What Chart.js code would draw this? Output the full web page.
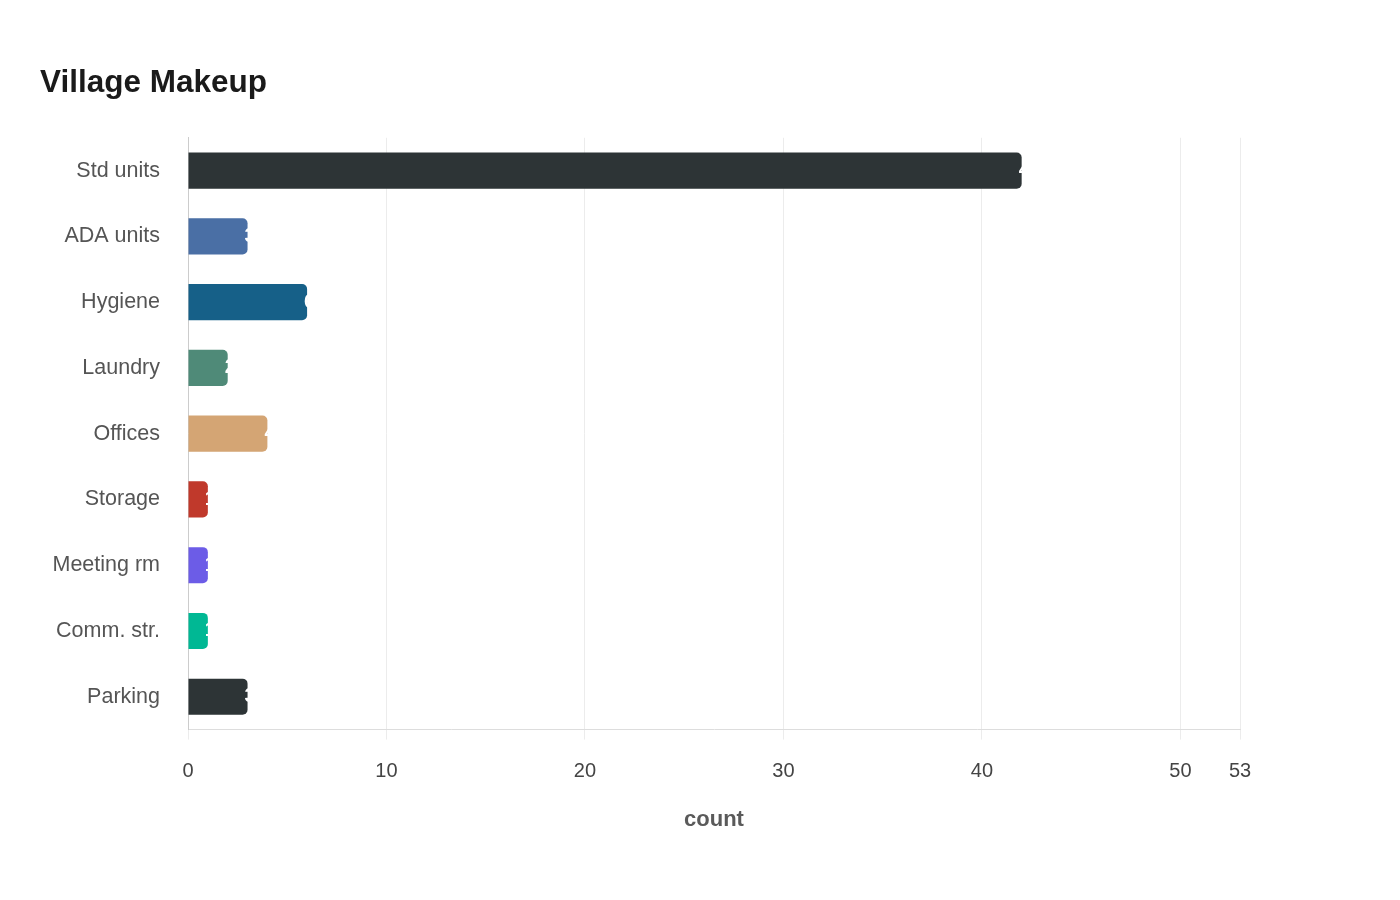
<!DOCTYPE html>
<html>
<head>
<meta charset="utf-8">
<script src="https://cdn.jsdelivr.net/npm/chart.js@4/dist/chart.umd.min.js"></script>
<style>
  html, body { margin: 0; padding: 0; background: #fff; }
  #wrap { width: 1400px; height: 900px; }
</style>
</head>
<body>
<div id="wrap"><canvas id="chart" width="1400" height="900"></canvas></div>
<script>
// ========== data ==========
const categories = ["Std units", "ADA units", "Hygiene", "Laundry", "Offices", "Storage", "Meeting rm", "Comm. str.", "Parking"];
const counts = [42, 3, 6, 2, 4, 1, 1, 1, 3];
const barColors = ["#2d3436", "#4a6fa5", "#166088", "#4f8a78", "#d4a574", "#c0392b", "#6c5ce7", "#00b894", "#2d3436"];
const xTicks = [0, 10, 20, 30, 40, 50, 53];
const X_MAX = 53;

const FONT = "'Liberation Sans', Arial, sans-serif";

// white value text sitting just past the bar end (only its left edge overlaps)
const barValueLabels = {
  id: "barValueLabels",
  afterDatasetsDraw(chart) {
    const { ctx } = chart;
    const meta = chart.getDatasetMeta(0);
    ctx.save();
    ctx.font = "bold 20px " + FONT;
    ctx.fillStyle = "#ffffff";
    ctx.textAlign = "left";
    ctx.textBaseline = "middle";
    meta.data.forEach((bar, i) => {
      ctx.fillText(String(counts[i]), bar.x - 3, bar.y);
    });
    ctx.restore();
  },
};

new Chart(document.getElementById("chart"), {
  type: "bar",
  data: {
    labels: categories,
    datasets: [{
      data: counts,
      backgroundColor: barColors,
      borderRadius: 5,
      barPercentage: 0.55,
      categoryPercentage: 1,
    }],
  },
  options: {
    indexAxis: "y",
    responsive: false,
    animation: false,
    layout: { padding: { left: 40, right: 160, top: 64, bottom: 67 } },
    plugins: {
      legend: { display: false },
      tooltip: { enabled: false },
      title: {
        display: true,
        text: "Village Makeup",
        align: "start",
        color: "#1a1a1a",
        font: { family: FONT, size: 31.5, weight: "bold" },
        padding: { top: 0, bottom: 36 },
      },
    },
    scales: {
      x: {
        min: 0,
        max: X_MAX,
        afterBuildTicks(scale) {
          scale.ticks = xTicks.map((v) => ({ value: v }));
        },
        grid: { color: "#ececec", tickLength: 10, drawTicks: true },
        border: { color: "#dddddd" },
        ticks: {
          color: "#444444",
          font: { family: FONT, size: 20 },
          padding: 20,
          maxRotation: 0,
        },
        title: {
          display: true,
          text: "count",
          color: "#5a5a5a",
          font: { family: FONT, size: 22, weight: "bold" },
          padding: { top: 3, bottom: 0 },
        },
      },
      y: {
        afterFit(scale) { scale.width = 148; },
        grid: { display: false, drawTicks: false },
        border: { display: true, color: "#cccccc" },
        ticks: {
          color: "#555555",
          font: { family: FONT, size: 21.5 },
          padding: 28,
        },
      },
    },
  },
  plugins: [barValueLabels],
});
</script>
</body>
</html>
